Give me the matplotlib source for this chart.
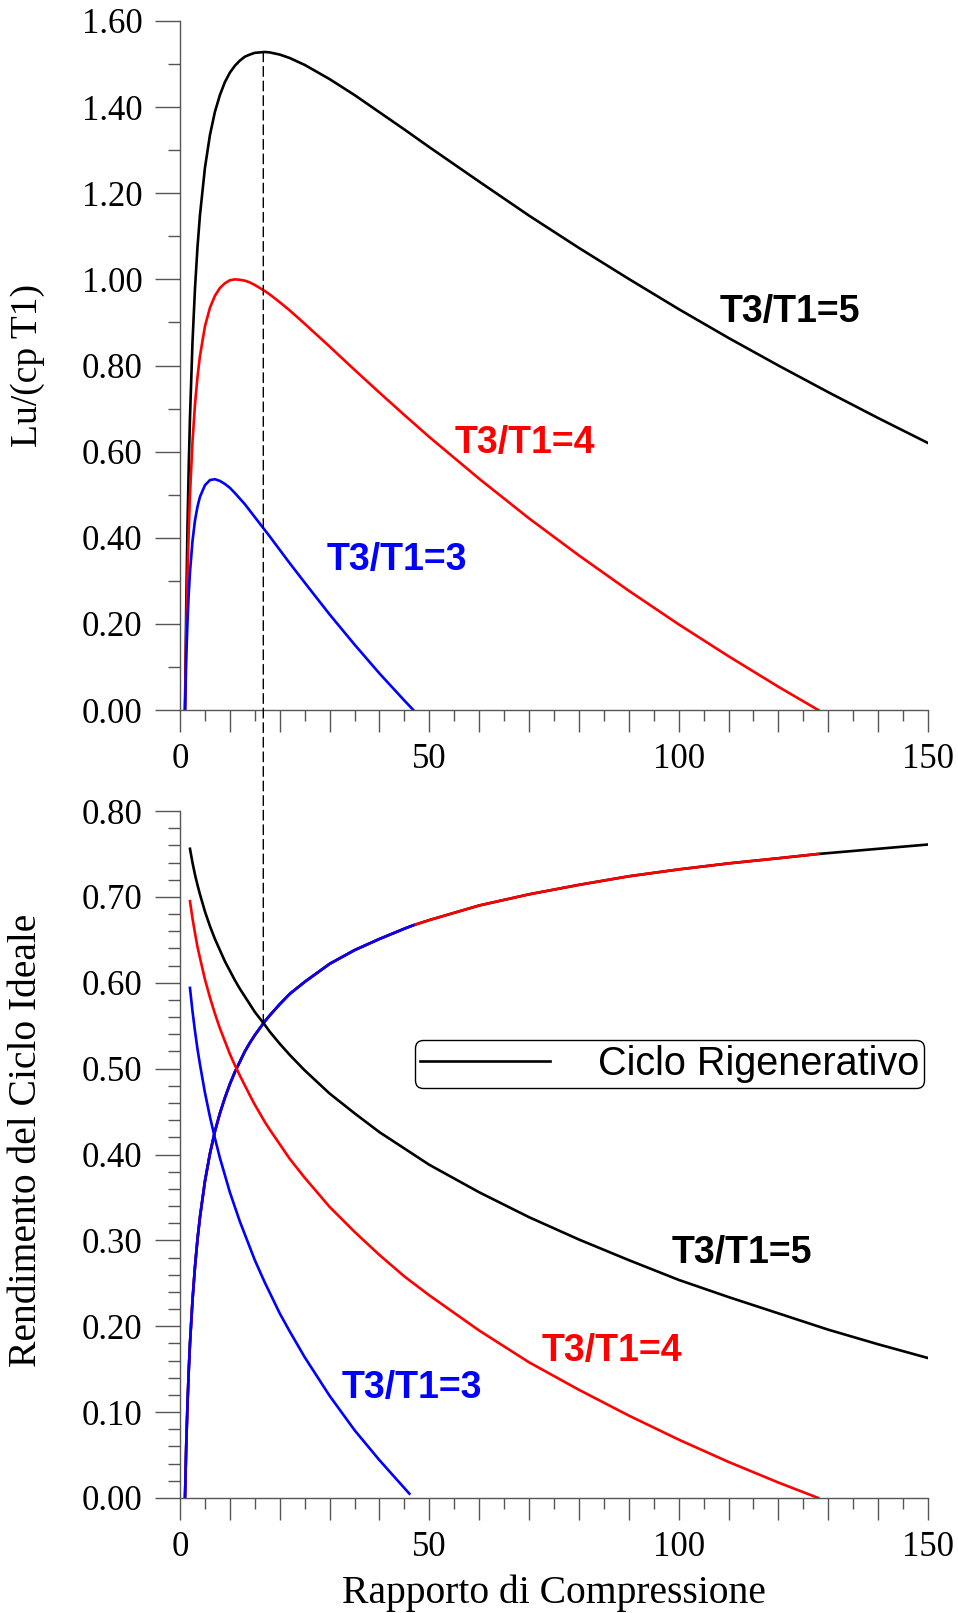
import matplotlib.pyplot as plt
from matplotlib.patches import ConnectionPatch
from matplotlib.ticker import MultipleLocator, FormatStrFormatter, FuncFormatter

plt.rcParams['font.family'] = ['Liberation Serif', 'DejaVu Serif']

b5 = [1, 1.25, 1.5, 1.75, 2, 2.5, 3, 3.5, 4, 5, 6, 7, 8, 9, 10, 11, 12, 13, 14, 15,
      16, 17, 18, 20, 22, 25, 30, 35, 40, 45, 50, 60, 70, 80, 90, 100, 110, 120,
      130, 140, 150]
lu5 = [0.0, 0.243, 0.424, 0.566, 0.679, 0.853, 0.978, 1.074, 1.149, 1.259, 1.335,
       1.389, 1.428, 1.458, 1.480, 1.496, 1.508, 1.517, 1.522, 1.526, 1.527, 1.528,
       1.527, 1.522, 1.514, 1.498, 1.465, 1.428, 1.388, 1.348, 1.307, 1.227, 1.148,
       1.073, 1.001, 0.931, 0.864, 0.800, 0.738, 0.678, 0.620]

b4 = [1, 1.25, 1.5, 1.75, 2, 2.5, 3, 3.5, 4, 5, 6, 7, 8, 9, 10, 11, 12, 13, 14, 15,
      16, 17, 18, 20, 22, 25, 30, 35, 40, 45, 50, 60, 70, 80, 90, 100, 110, 120, 128]
lu4 = [0.0, 0.181, 0.315, 0.418, 0.500, 0.622, 0.709, 0.773, 0.822, 0.891, 0.934,
       0.962, 0.980, 0.991, 0.998, 1.000, 0.999, 0.997, 0.993, 0.987, 0.980, 0.973,
       0.965, 0.947, 0.928, 0.897, 0.844, 0.790, 0.737, 0.685, 0.634, 0.537, 0.445,
       0.359, 0.277, 0.199, 0.125, 0.054, 0.0]

b3 = [1, 1.25, 1.5, 1.75, 2, 2.5, 3, 3.5, 4, 5, 6, 7, 8, 9, 10, 11, 12, 13, 14, 15,
      16, 17, 18, 20, 22, 25, 30, 35, 40, 45, 46.8]
lu3 = [0.0, 0.119, 0.205, 0.270, 0.320, 0.392, 0.440, 0.472, 0.495, 0.522, 0.534,
       0.536, 0.532, 0.525, 0.516, 0.504, 0.491, 0.478, 0.463, 0.448, 0.433, 0.418,
       0.403, 0.372, 0.341, 0.296, 0.222, 0.152, 0.085, 0.022, 0.0]

# --- rendimento ciclo ideale (senza rigenerazione) ---
b_id = [1, 1.25, 1.5, 1.75, 2, 2.5, 3, 3.5, 4, 5, 6, 7, 8, 9, 10, 11, 12, 13, 14,
        15, 16, 17, 18, 20, 22, 25, 30, 35, 40, 45, 46.8, 50, 60, 70, 80, 90, 100,
        110, 120, 128, 130, 140, 150]
eta_id = [0.0, 0.062, 0.109, 0.148, 0.180, 0.230, 0.269, 0.301, 0.327, 0.369, 0.401,
          0.427, 0.448, 0.466, 0.482, 0.496, 0.508, 0.520, 0.530, 0.539, 0.547, 0.555,
          0.562, 0.575, 0.587, 0.601, 0.622, 0.638, 0.651, 0.663, 0.667, 0.673, 0.690,
          0.703, 0.714, 0.724, 0.732, 0.739, 0.745, 0.750, 0.751, 0.756, 0.761]

# --- rendimento ciclo rigenerativo ---
b_r5 = [2, 2.5, 3, 3.5, 4, 5, 6, 7, 8, 9, 10, 11, 12, 14, 15, 17, 18, 20, 22, 25,
        30, 35, 40, 45, 50, 60, 70, 80, 90, 100, 110, 120, 130, 140, 150]
eta_r5 = [0.756, 0.740, 0.726, 0.714, 0.703, 0.683, 0.666, 0.651, 0.638, 0.625,
          0.614, 0.603, 0.593, 0.575, 0.566, 0.551, 0.543, 0.529, 0.516, 0.498,
          0.471, 0.448, 0.426, 0.407, 0.388, 0.356, 0.327, 0.301, 0.277, 0.254,
          0.234, 0.215, 0.196, 0.179, 0.163]
b_r4 = [2, 2.5, 3, 3.5, 4, 5, 6, 7, 8, 9, 10, 11, 12, 14, 15, 17, 18, 20, 22, 25,
        30, 35, 40, 45, 50, 60, 70, 80, 90, 100, 110, 120, 128]
eta_r4 = [0.695, 0.675, 0.658, 0.642, 0.629, 0.604, 0.583, 0.564, 0.547, 0.532,
          0.517, 0.504, 0.492, 0.469, 0.458, 0.438, 0.429, 0.412, 0.395, 0.373,
          0.339, 0.310, 0.283, 0.258, 0.236, 0.195, 0.158, 0.126, 0.096, 0.068,
          0.042, 0.018, 0.0]
b_r3 = [2, 2.5, 3, 3.5, 4, 5, 6, 7, 8, 9, 10, 11, 12, 14, 15, 17, 18, 20, 22, 25,
        30, 35, 40, 46]
eta_r3 = [0.594, 0.567, 0.544, 0.523, 0.505, 0.472, 0.444, 0.419, 0.396, 0.376,
          0.356, 0.339, 0.322, 0.292, 0.277, 0.251, 0.239, 0.215, 0.194, 0.164,
          0.119, 0.079, 0.044, 0.005]

# massimo lavoro per T3/T1=5
b_max, lu_max, eta_max = 16.7, 1.528, 0.553

fig = plt.figure(figsize=(9.58, 16.13), dpi=100)
ax1 = fig.add_axes([0.1879, 0.5598, 0.7808, 0.4272])
ax2 = fig.add_axes([0.1879, 0.0713, 0.7808, 0.4259])

lw = 1.9
ax1.plot(b5, lu5, color='black', lw=lw)
ax1.plot(b4, lu4, color='#ff0000', lw=lw)
ax1.plot(b3, lu3, color='#0000ff', lw=lw)

ax2.plot(b_id, eta_id, color='black', lw=lw)
ax2.plot([b for b in b_id if b <= 128], [e for b, e in zip(b_id, eta_id) if b <= 128],
         color='#ff0000', lw=lw)
ax2.plot([b for b in b_id if b <= 46.8], [e for b, e in zip(b_id, eta_id) if b <= 46.8],
         color='#0000ff', lw=lw)
l_rig, = ax2.plot(b_r5, eta_r5, color='black', lw=lw)
ax2.plot(b_r4, eta_r4, color='#ff0000', lw=lw)
ax2.plot(b_r3, eta_r3, color='#0000ff', lw=lw)

lab = dict(fontsize=27, fontweight='bold', family='Liberation Sans', va='baseline')
ax1.text(108.3, 0.901, 'T3/T1=5', color='black', **lab)
ax1.text(55.1, 0.597, 'T3/T1=4', color='#ff0000', **lab)
ax1.text(29.5, 0.325, 'T3/T1=3', color='#0000ff', **lab)
ax2.text(98.5, 0.274, 'T3/T1=5', color='black', **lab)
ax2.text(72.6, 0.159, 'T3/T1=4', color='#ff0000', **lab)
ax2.text(32.4, 0.116, 'T3/T1=3', color='#0000ff', **lab)

for ax in (ax1, ax2):
    ax.set_xlim(0, 150)
    ax.spines['top'].set_visible(False)
    ax.spines['right'].set_visible(False)
    for s in ('left', 'bottom'):
        ax.spines[s].set_linewidth(1.0)
        ax.spines[s].set_color('#555555')
    ax.xaxis.set_major_locator(MultipleLocator(10))
    ax.xaxis.set_minor_locator(MultipleLocator(5))
    ax.xaxis.set_major_formatter(FuncFormatter(lambda v, p: '%d' % v if v % 50 == 0 else ''))
    ax.yaxis.set_major_formatter(FormatStrFormatter('%.2f'))
    ax.tick_params(axis='x', which='major', length=16, width=1, color='#555555',
                   labelsize=25, pad=8)
    ax.tick_params(axis='x', which='minor', length=8, width=1, color='#555555')
    ax.tick_params(axis='y', which='major', length=18, width=1, color='#555555',
                   labelsize=25, pad=9)
    ax.tick_params(axis='y', which='minor', length=9, width=1, color='#555555')

ax1.set_ylim(0, 1.6)
ax1.yaxis.set_major_locator(MultipleLocator(0.2))
ax1.yaxis.set_minor_locator(MultipleLocator(0.1))
ax2.set_ylim(0, 0.8)
ax2.yaxis.set_major_locator(MultipleLocator(0.1))
ax2.yaxis.set_minor_locator(MultipleLocator(0.02))

ax1.set_ylabel('Lu/(cp T1)', fontsize=27)
ax1.yaxis.set_label_coords(-0.18, 0.5)
ax2.set_ylabel('Rendimento del Ciclo Ideale', fontsize=28.5)
ax2.yaxis.set_label_coords(-0.18, 0.52)
ax2.set_xlabel('Rapporto di Compressione', fontsize=28.5)
ax2.xaxis.set_label_coords(0.5, -0.112)

leg = ax2.legend([l_rig], ['Ciclo Rigenerativo'], loc='lower left',
                 bbox_to_anchor=(0.314, 0.597), borderaxespad=0,
                 prop={'family': 'Liberation Sans', 'size': 28.5},
                 handlelength=3.3, handletextpad=1.2, borderpad=0.12,
                 fancybox=True, framealpha=1, edgecolor='black')
leg.get_frame().set_linewidth(1.0)

con = ConnectionPatch(xyA=(b_max, lu_max), coordsA=ax1.transData,
                      xyB=(b_max, eta_max), coordsB=ax2.transData,
                      linestyle=(0, (7, 3.5)), lw=1.0, color='black')
fig.add_artist(con)

fig.savefig('out.png', dpi=100)
